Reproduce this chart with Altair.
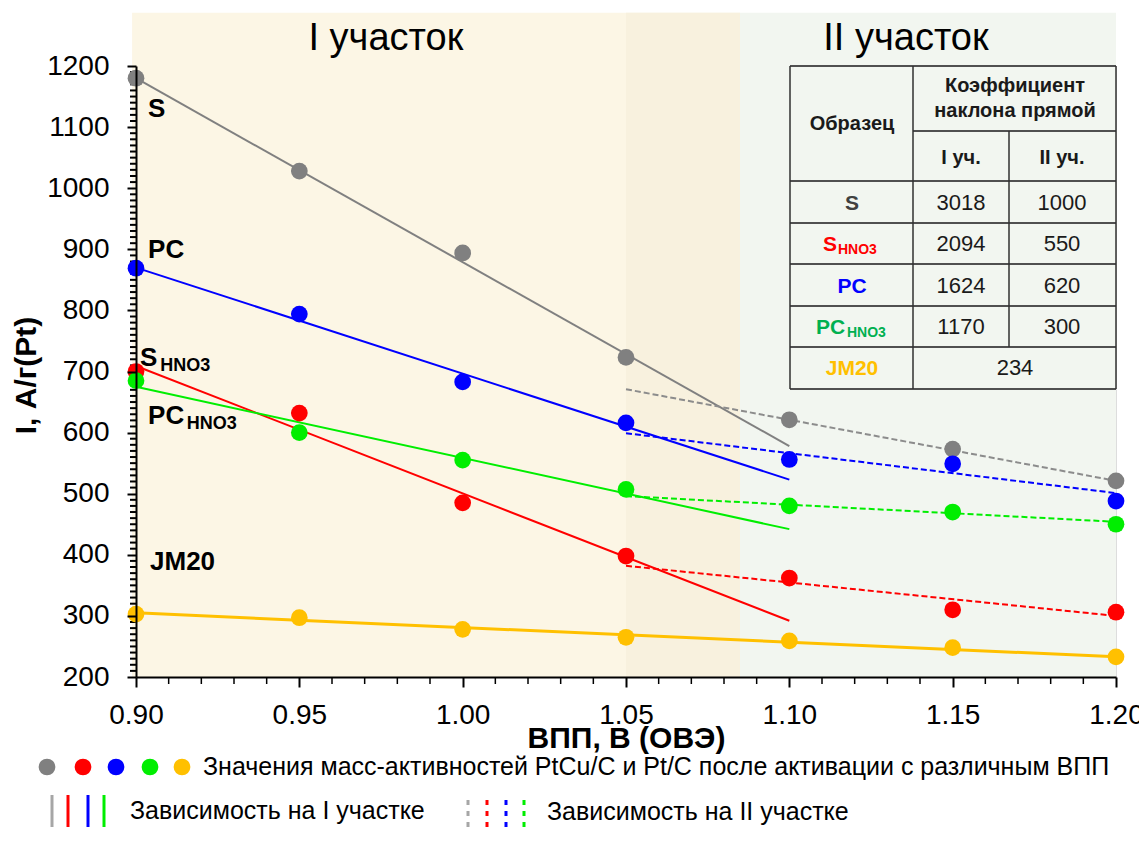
import altair as alt
import pandas as pd

FONT = "Liberation Sans"

# ---------------- data ----------------
x_vals = [0.90, 0.95, 1.00, 1.05, 1.10, 1.15, 1.20]
S = [1180, 1028, 894, 723, 621, 573, 521]
S_HNO3 = [700, 632, 485, 398, 362, 310, 306]
PC = [869, 794, 683, 616, 556, 549, 488]
PC_HNO3 = [685, 600, 555, 507, 480, 470, 450]
JM20 = [303, 297, 278, 265, 259, 248, 233]

series_keys = ["S", "S_HNO3", "PC", "PC_HNO3", "JM20"]
series_vals = [S, S_HNO3, PC, PC_HNO3, JM20]
series_colors = ["#808080", "#FF0000", "#0000FF", "#00EE00", "#FFC000"]

# linear fits: region I (0.90-1.10) solid, region II (1.05-1.20) dashed
fit1_x = [0.90, 1.10]
fit1_S = [1180, 578]
fit1_S_HNO3 = [709, 292]
fit1_PC = [870, 523]
fit1_PC_HNO3 = [675, 442]
fit2_x = [1.05, 1.20]
fit2_S = [671, 521]
fit2_S_HNO3 = [382, 300]
fit2_PC = [599, 501]
fit2_PC_HNO3 = [496, 454]
jm_fit_x = [0.90, 1.20]
jm_fit = [305, 233]

# slope table
table_names = ["S", "S", "PC", "PC", "JM20"]
table_subs = ["", "HNO3", "", "HNO3", ""]
table_name_colors = ["#404040", "#FF0000", "#0000FF", "#00B050", "#FFC000"]
slope_I = ["3018", "2094", "1624", "1170"]
slope_II = ["1000", "550", "620", "300"]
slope_JM = "234"

x_ticks = [0.90, 0.95, 1.00, 1.05, 1.10, 1.15, 1.20]
y_ticks = [200, 300, 400, 500, 600, 700, 800, 900, 1000, 1100, 1200]
x_minor = [round(0.90 + 0.01 * i, 2) for i in range(1, 30) if i % 5 != 0]
y_minor = [200 + 10 * i for i in range(1, 100) if i % 10 != 0]

# ---------------- layout ----------------
W, H = 980, 611
xs = alt.Scale(domain=[0.90, 1.20], nice=False, zero=False)
ys = alt.Scale(domain=[200, 1200], nice=False, zero=False)

x_axis = alt.Axis(values=x_ticks, format=".2f", title="ВПП, В (ОВЭ)", grid=False,
                  labelFont=FONT, labelFontSize=28, labelColor="black", labelPadding=14,
                  labelFlush=False, labelOverlap=False,
                  tickSize=10, tickWidth=2, tickColor="black",
                  domainColor="black", domainWidth=2,
                  titleFont=FONT, titleFontSize=30, titleFontWeight="bold", titleColor="black",
                  titleY=70, titleBaseline="alphabetic", zindex=2)
y_axis = alt.Axis(values=y_ticks, format="d", title="I, А/г(Pt)", grid=False,
                  labelFont=FONT, labelFontSize=28, labelColor="black", labelPadding=18,
                  labelFlush=False, labelOverlap=False,
                  tickSize=9, tickWidth=2, tickColor="black",
                  domainColor="black", domainWidth=2,
                  titleFont=FONT, titleFontSize=30, titleFontWeight="bold", titleColor="black",
                  titleAngle=-90, titleX=-101, titleY=309, titleAlign="center",
                  titleBaseline="alphabetic", zindex=2)

X = lambda f: alt.X(f, type="quantitative", scale=xs, axis=x_axis)
Y = lambda f: alt.Y(f, type="quantitative", scale=ys, axis=y_axis)
PX = lambda f: alt.X(f, type="quantitative", scale=None, axis=None)
PY = lambda f: alt.Y(f, type="quantitative", scale=None, axis=None)

# ---------------- background bands ----------------
bands = pd.DataFrame({
    "x": [0.8988, 1.05, 1.0849],
    "x2": [1.0849, 1.0849, 1.20],
    "y": [200, 200, 200],
    "y2": [1287, 1287, 1287],
    "c": ["#FCF6E5", "#F8F1DE", "#F2F6F0"],
})
band_layer = alt.Chart(bands).mark_rect(clip=False).encode(
    x=X("x"), x2="x2", y=Y("y"), y2="y2", color=alt.Color("c:N", scale=None))

region_titles = pd.DataFrame({"t": ["I участок", "II участок"],
                              "x": [0.9765, 1.1357], "y": [1226, 1226]})
region_layer = alt.Chart(region_titles).mark_text(
    font=FONT, fontSize=38, color="black", align="center", baseline="alphabetic", clip=False
).encode(x=X("x"), y=Y("y"), text="t:N")

# minor ticks
xm = alt.Chart(pd.DataFrame({"v": x_minor})).mark_rule(color="black", strokeWidth=1.5).encode(
    x=X("v"), y=alt.value(H), y2=alt.value(H + 7))
ym = alt.Chart(pd.DataFrame({"v": y_minor})).mark_tick(
    color="black", orient="horizontal", size=7, thickness=2, opacity=1
).encode(y=Y("v"), x=alt.value(-2.5))

# ---------------- fit lines ----------------
rows = []
for k, c, xx, yy in [("S", series_colors[0], fit1_x, fit1_S),
                     ("S_HNO3", series_colors[1], fit1_x, fit1_S_HNO3),
                     ("PC", series_colors[2], fit1_x, fit1_PC),
                     ("PC_HNO3", series_colors[3], fit1_x, fit1_PC_HNO3)]:
    for a, b in zip(xx, yy):
        rows.append({"k": k, "c": c, "x": a, "y": b})
solid_df = pd.DataFrame(rows)
solid_layer = alt.Chart(solid_df).mark_line(strokeWidth=2).encode(
    x=X("x"), y=Y("y"), detail="k:N", color=alt.Color("c:N", scale=None))

rows = []
for k, c, xx, yy in [("S", "#8C8C8C", fit2_x, fit2_S),
                     ("S_HNO3", series_colors[1], fit2_x, fit2_S_HNO3),
                     ("PC", series_colors[2], fit2_x, fit2_PC),
                     ("PC_HNO3", series_colors[3], fit2_x, fit2_PC_HNO3)]:
    for a, b in zip(xx, yy):
        rows.append({"k": k, "c": c, "x": a, "y": b})
dash_df = pd.DataFrame(rows)
dash_layer = alt.Chart(dash_df).mark_line(strokeWidth=2, strokeDash=[6, 3]).encode(
    x=X("x"), y=Y("y"), detail="k:N", color=alt.Color("c:N", scale=None))

jm_df = pd.DataFrame({"x": jm_fit_x, "y": jm_fit})
jm_layer = alt.Chart(jm_df).mark_line(strokeWidth=3, color="#FFC000").encode(x=X("x"), y=Y("y"))

# ---------------- points ----------------
rows = []
for k, c, vals in zip(series_keys, series_colors, series_vals):
    for a, b in zip(x_vals, vals):
        rows.append({"k": k, "c": c, "x": a, "y": b})
pts_df = pd.DataFrame(rows)
pts_layer = alt.Chart(pts_df).mark_circle(size=280, opacity=1).encode(
    x=X("x"), y=Y("y"), color=alt.Color("c:N", scale=None), detail="k:N")

# ---------------- series labels ----------------
lab_df = pd.DataFrame({
    "t": ["S", "PC", "S", "PC", "JM20"],
    "x": [0.9037, 0.9037, 0.9012, 0.9037, 0.9043],
    "y": [1116, 886, 709, 614, 375],
})
lab_layer = alt.Chart(lab_df).mark_text(
    font=FONT, fontSize=26, fontWeight="bold", color="black", align="left", baseline="alphabetic"
).encode(x=X("x"), y=Y("y"), text="t:N")
sub_df = pd.DataFrame({"t": ["HNO3", "HNO3"], "x": [0.9074, 0.9155], "y": [701, 606]})
sub_layer = alt.Chart(sub_df).mark_text(
    font=FONT, fontSize=18, fontWeight="bold", color="black", align="left", baseline="alphabetic"
).encode(x=X("x"), y=Y("y"), text="t:N")

# ---------------- table (pixel layout, relative to plot origin) ----------------
TL, TC1, TC2, TR = 654, 777, 873, 980
row_lines = [0, 115, 157, 198, 240, 281, 323]
h_rules = [{"x": TL, "x2": TR, "y": r, "y2": r} for r in row_lines]
h_rules.append({"x": TC1, "x2": TR, "y": 65, "y2": 65})
v_rules = [{"x": TL, "x2": TL, "y": 0, "y2": 323},
           {"x": TC1, "x2": TC1, "y": 0, "y2": 323},
           {"x": TC2, "x2": TC2, "y": 65, "y2": 281},
           {"x": TR, "x2": TR, "y": 0, "y2": 323}]
hr_layer = alt.Chart(pd.DataFrame(h_rules)).mark_rule(color="#505050", strokeWidth=2).encode(
    x=PX("x"), x2="x2", y=PY("y"), y2="y2")
vr_layer = alt.Chart(pd.DataFrame(v_rules)).mark_rule(color="#303030", strokeWidth=1.5).encode(
    x=PX("x"), x2="x2", y=PY("y"), y2="y2")

row_cy = [137, 178, 220, 261, 302]
hdr_df = pd.DataFrame({
    "t": ["Образец", "Коэффициент", "наклона прямой", "I уч.", "II уч."],
    "x": [716, 879, 879, 825, 926],
    "y": [58, 20, 45, 92, 92],
})
hdr_layer = alt.Chart(hdr_df).mark_text(
    font=FONT, fontSize=20, fontWeight="bold", color="#1a1a1a", align="center", baseline="middle"
).encode(x=PX("x"), y=PY("y"), text="t:N")

num_t = slope_I + slope_II + [slope_JM]
num_x = [825] * 4 + [926] * 4 + [879]
num_y = row_cy[:4] + row_cy[:4] + [row_cy[4]]
num_layer = alt.Chart(pd.DataFrame({"t": num_t, "x": num_x, "y": num_y})).mark_text(
    font=FONT, fontSize=22, color="#1a1a1a", align="center", baseline="middle"
).encode(x=PX("x"), y=PY("y"), text="t:N")

name_x = [716, 687, 716, 680, 716]
name_align = ["center", "left", "center", "left", "center"]
name_rows = []
for i in range(5):
    name_rows.append({"t": table_names[i], "c": table_name_colors[i], "x": name_x[i],
                      "y": row_cy[i] + 7, "a": name_align[i]})
name_df = pd.DataFrame(name_rows)
name_c = alt.Chart(name_df[name_df.a == "center"]).mark_text(
    font=FONT, fontSize=21, fontWeight="bold", align="center", baseline="alphabetic"
).encode(x=PX("x"), y=PY("y"), text="t:N", color=alt.Color("c:N", scale=None))
name_l = alt.Chart(name_df[name_df.a == "left"]).mark_text(
    font=FONT, fontSize=21, fontWeight="bold", align="left", baseline="alphabetic"
).encode(x=PX("x"), y=PY("y"), text="t:N", color=alt.Color("c:N", scale=None))
tsub_df = pd.DataFrame({"t": [table_subs[1], table_subs[3]],
                        "c": [table_name_colors[1], table_name_colors[3]],
                        "x": [702, 711], "y": [row_cy[1] + 10, row_cy[3] + 10]})
tsub_layer = alt.Chart(tsub_df).mark_text(
    font=FONT, fontSize=14, fontWeight="bold", align="left", baseline="alphabetic"
).encode(x=PX("x"), y=PY("y"), text="t:N", color=alt.Color("c:N", scale=None))

# ---------------- bottom legend ----------------
leg_pts = pd.DataFrame({"x": [-89, -53, -20, 14, 46], "y": [701] * 5, "c": series_colors})
leg_pts_layer = alt.Chart(leg_pts).mark_circle(size=280, opacity=1).encode(
    x=PX("x"), y=PY("y"), color=alt.Color("c:N", scale=None))
leg_solid = pd.DataFrame({"x": [-84, -68, -48, -32], "y": [729] * 4, "y2": [772] * 4,
                          "c": ["#A6A6A6", "#FF0000", "#0000FF", "#00EE00"]})
leg_solid_layer = alt.Chart(leg_solid).mark_rule(strokeWidth=3).encode(
    x=PX("x"), y=PY("y"), y2="y2", color=alt.Color("c:N", scale=None))
leg_dot = pd.DataFrame({"x": [332, 351, 370, 388], "y": [734] * 4, "y2": [772] * 4,
                        "c": ["#A6A6A6", "#FF0000", "#0000FF", "#00EE00"]})
leg_dot_layer = alt.Chart(leg_dot).mark_rule(strokeWidth=3, strokeDash=[5, 6]).encode(
    x=PX("x"), y=PY("y"), y2="y2", color=alt.Color("c:N", scale=None))
leg_text = pd.DataFrame({
    "t": ["Значения масс-активностей PtCu/C и Pt/C после активации с различным ВПП",
          "Зависимость на I участке", "Зависимость на II участке"],
    "x": [67, -6, 411], "y": [701, 745, 746]})
leg_text_layer = alt.Chart(leg_text).mark_text(
    font=FONT, fontSize=25, color="black", align="left", baseline="middle"
).encode(x=PX("x"), y=PY("y"), text="t:N")

chart = alt.layer(
    band_layer, region_layer, xm, ym,
    solid_layer, dash_layer, jm_layer, pts_layer,
    lab_layer, sub_layer,
    hr_layer, vr_layer, hdr_layer, num_layer, name_c, name_l, tsub_layer,
    leg_pts_layer, leg_solid_layer, leg_dot_layer, leg_text_layer,
).properties(
    width=W, height=H,
    autosize=alt.AutoSizeParams(type="none"),
    padding={"left": 128, "top": 58, "right": 23, "bottom": 150},
).configure_view(stroke="black", strokeWidth=2).configure(background="white")

chart.save("out.html", embed_options={"renderer": "svg", "actions": False})
